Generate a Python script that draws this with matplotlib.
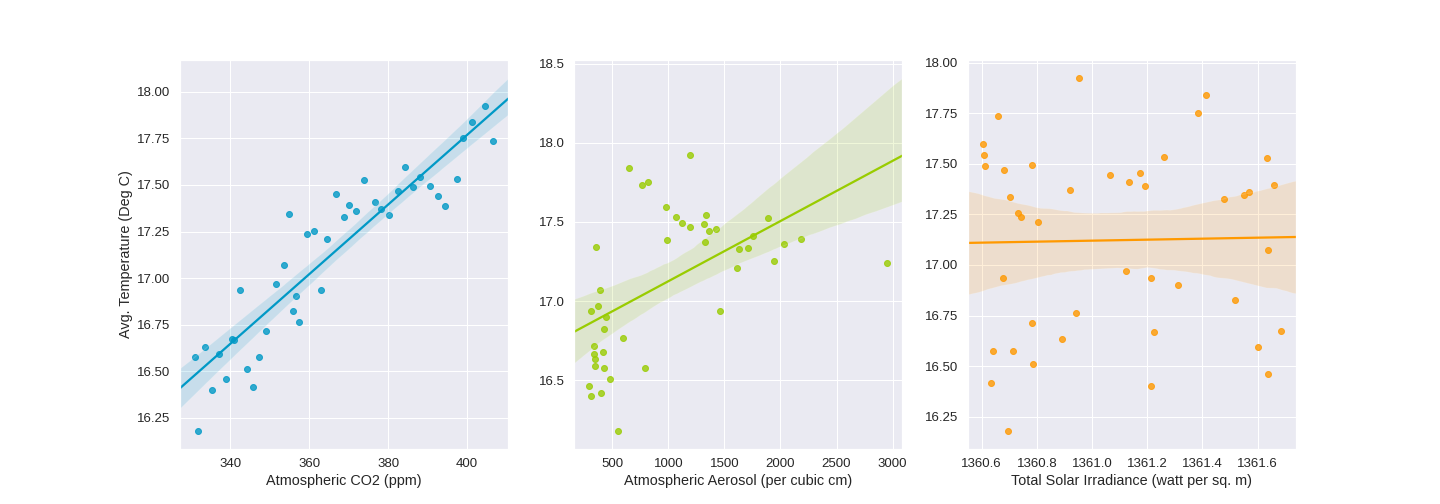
import matplotlib
matplotlib.use("Agg")
import matplotlib.pyplot as plt
import seaborn as sns
import numpy as np

# yearly values (same order in every list)
co2 = [331.1, 331.9, 333.7, 335.4, 337.2, 339.0, 340.5, 341.0, 342.5, 344.3,
       345.8, 347.3, 349.1, 351.6, 353.7, 354.9, 355.9, 356.7, 357.5, 359.5,
       361.3, 363.0, 364.6, 366.8, 368.8, 370.1, 371.9, 373.9, 376.7, 378.2,
       380.3, 382.5, 384.3, 386.3, 388.1, 390.6, 392.7, 394.4, 397.5, 399.0,
       401.3, 404.6, 406.6]
temp = [16.577, 16.18, 16.632, 16.40, 16.593, 16.461, 16.676, 16.667, 16.935, 16.511,
        16.417, 16.577, 16.715, 16.969, 17.073, 17.344, 16.825, 16.902, 16.764, 17.239,
        17.255, 16.935, 17.211, 17.454, 17.327, 17.393, 17.36, 17.526, 17.41, 17.371,
        17.338, 17.47, 17.597, 17.487, 17.542, 17.493, 17.443, 17.388, 17.531, 17.752,
        17.84, 17.923, 17.735]
aerosol = [425, 550, 345, 309, 345, 291, 416, 336, 309, 479,
           398, 791, 336, 371, 389, 354, 425, 443, 595, 2952,
           1943, 1461, 1612, 1425, 1630, 2184, 2032, 1889, 1755, 1327,
           1711, 1193, 979, 1318, 1336, 1121, 1363, 988, 1068, 818,
           648, 1193, 764]
tsi = [1360.64, 1360.696, 1360.89, 1361.214, 1361.6, 1361.637, 1361.685, 1361.225, 1360.677, 1360.788,
       1360.633, 1360.714, 1360.784, 1361.122, 1361.637, 1361.552, 1361.519, 1361.31, 1360.942, 1360.743,
       1360.732, 1361.214, 1360.806, 1361.174, 1361.479, 1361.659, 1361.567, 1361.633, 1361.133, 1360.92,
       1360.703, 1360.681, 1360.604, 1360.611, 1360.607, 1360.784, 1361.067, 1361.192, 1361.262, 1361.383,
       1361.413, 1360.953, 1360.659]

xlabels = ["Atmospheric CO2 (ppm)", "Atmospheric Aerosol (per cubic cm)",
           "Total Solar Irradiance (watt per sq. m)"]
colors = ["#0099c6", "#99cc00", "#ff9900"]

sns.set(font_scale=1.2)
plt.rcParams['font.family'] = ['Liberation Sans', 'DejaVu Sans']

fig, axes = plt.subplots(1, 3, figsize=(20, 7))
for ax, xs, lab, c in zip(axes, [co2, aerosol, tsi], xlabels, colors):
    sns.regplot(x=np.array(xs), y=np.array(temp), ax=ax, color=c,
                truncate=False, seed=1)
    ax.set_xlabel(lab)
axes[0].set_ylabel("Avg. Temperature (Deg C)")

plt.savefig("out.png", dpi=72)
plt.close()
